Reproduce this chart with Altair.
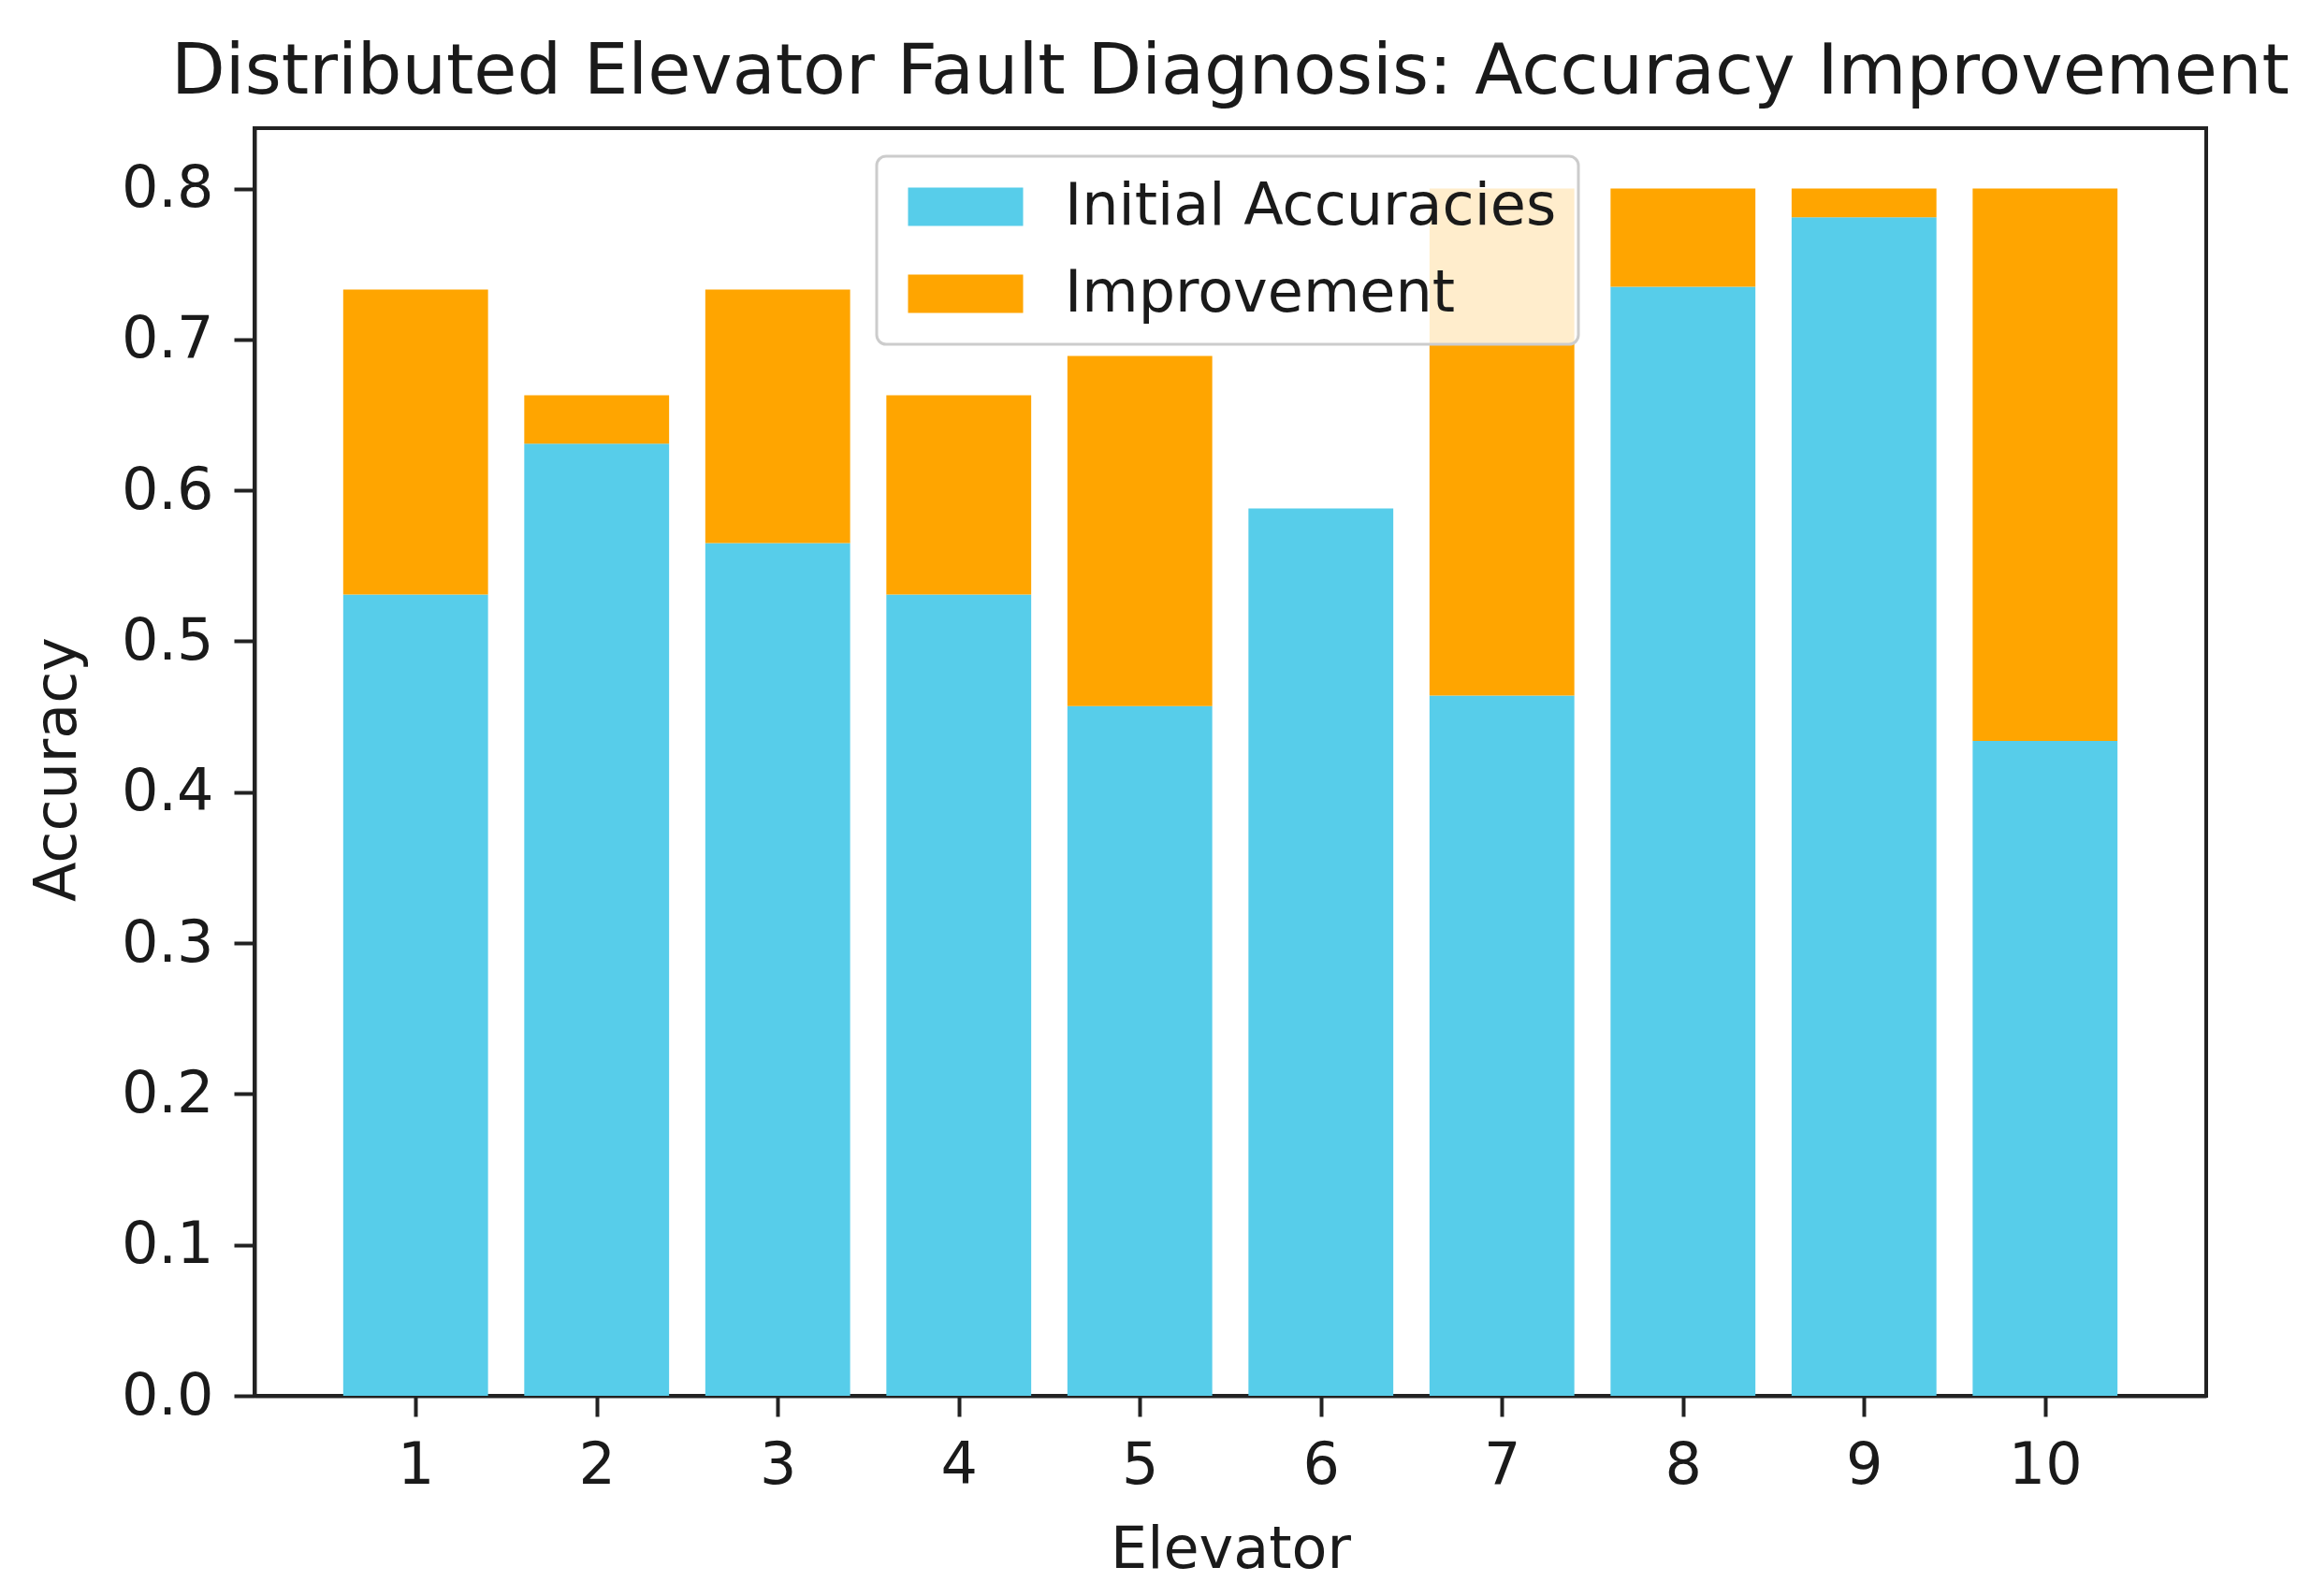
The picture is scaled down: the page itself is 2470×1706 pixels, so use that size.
import altair as alt
import pandas as pd

elevators = [1, 2, 3, 4, 5, 6, 7, 8, 9, 10]
initial_acc = [0.531, 0.631, 0.565, 0.531, 0.457, 0.588, 0.464, 0.735, 0.781, 0.434]
improvement = [0.202, 0.032, 0.168, 0.132, 0.232, 0.0, 0.336, 0.065, 0.019, 0.366]
series_names = ["Initial Accuracies", "Improvement"]
series_colors = ["#57CDEA", "#FFA500"]
y_ticks = [0.0, 0.1, 0.2, 0.3, 0.4, 0.5, 0.6, 0.7, 0.8]
bar_width = 0.8

rows = []
for e, a, d in zip(elevators, initial_acc, improvement):
    rows.append({"elevator": e, "left": e - bar_width / 2, "right": e + bar_width / 2,
                 "lo": 0.0, "hi": a, "series": series_names[0]})
    rows.append({"elevator": e, "left": e - bar_width / 2, "right": e + bar_width / 2,
                 "lo": a, "hi": a + d, "series": series_names[1]})
df = pd.DataFrame(rows)

FONT = "DejaVu Sans"

chart = alt.Chart(df).mark_bar(strokeWidth=0).encode(
    x=alt.X("left:Q",
            scale=alt.Scale(domain=[0.11, 10.89], nice=False, zero=False),
            axis=alt.Axis(values=elevators, format="d", title="Elevator",
                          titleY=183, titleBaseline="alphabetic", labelFlush=False)),
    x2="right:Q",
    y=alt.Y("lo:Q",
            scale=alt.Scale(domain=[0, 0.84], nice=False),
            axis=alt.Axis(values=y_ticks, format=".1f", title="Accuracy",
                          titleX=-192, titleY=685, titleBaseline="alphabetic",
                          titleAngle=270, titleAlign="center", labelFlush=False)),
    y2="hi:Q",
    color=alt.Color("series:N",
                    scale=alt.Scale(domain=series_names, range=series_colors),
                    legend=alt.Legend(title=None, orient="none", legendX=665, legendY=30,
                                      symbolType="M-3,-1H3V1H-3Z", symbolSize=1681,
                                      symbolStrokeWidth=0, symbolOffset=41, labelOffset=75,
                                      labelFontSize=62, labelFont=FONT, labelColor="#1a1a1a",
                                      labelLimit=0,
                                      rowPadding=31, padding=23,
                                      fillColor="rgba(255,255,255,0.8)",
                                      strokeColor="#cccccc", cornerRadius=10)),
).properties(
    width=2086,
    height=1355,
    title=alt.TitleParams("Distributed Elevator Fault Diagnosis: Accuracy Improvement",
                          font=FONT, fontSize=75, fontWeight="normal", color="#1a1a1a",
                          anchor="middle", baseline="alphabetic", offset=-38, frame="group"),
    autosize=alt.AutoSizeParams(type="none"),
    padding={"left": 264, "top": 129, "right": 100, "bottom": 205},
).configure_axis(
    grid=False,
    domainColor="#222222", domainWidth=4,
    tickColor="#222222", tickWidth=4, tickSize=22,
    labelPadding=22, labelFontSize=62, labelFont=FONT, labelColor="#1a1a1a",
    titleFontSize=62, titleFont=FONT, titleFontWeight="normal", titleColor="#1a1a1a",
).configure_view(
    stroke="#222222", strokeWidth=4
).configure_legend(
    strokeWidth=3
)

chart.save("out.html", embed_options={"renderer": "svg", "actions": False})
